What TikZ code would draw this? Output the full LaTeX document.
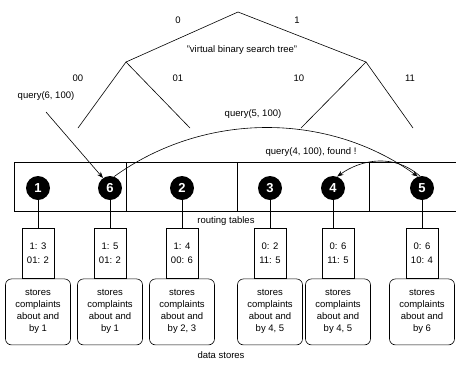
\documentclass[tikz,border=0pt]{standalone}
\usepackage{fontspec}
\setmainfont{Liberation Sans}
\usetikzlibrary{positioning,arrows.meta}

\begin{document}
\begin{tikzpicture}[x=1pt,y=-1pt,font=\fontsize{9.5}{12}\selectfont,
  peer/.style={circle,fill=black,text=white,minimum size=24pt,inner sep=0pt,font=\fontsize{13}{13}\selectfont\bfseries},
  rt/.style={draw=black,line width=0.6pt,align=center,minimum width=32pt,minimum height=50pt,inner sep=1pt,anchor=north,font=\fontsize{9.5}{14}\selectfont},
  ds/.style={draw=black,line width=0.6pt,rounded corners=6pt,align=center,minimum width=65pt,minimum height=66pt,inner sep=1pt},
  ln/.style={line width=0.6pt},
  ar/.style={-{Stealth[length=2.2mm]},line width=0.6pt},
  lb/.style={inner sep=1pt}]
  \useasboundingbox (0,0) rectangle (456,365);
  \coordinate (root) at (238,12);
  \coordinate (t0) at (126,62);
  \coordinate (t1) at (366,62);
  \coordinate (t00) at (78,128);
  \coordinate (t01) at (190,128);
  \coordinate (t10) at (301,128);
  \coordinate (t11) at (413,128);
  \draw[ln] (t0) -- (root) -- (t1);
  \draw[ln] (t00) -- (t0) -- (t01);
  \draw[ln] (t10) -- (t1) -- (t11);
  \node[lb] (b0) at (178,20) {0};
  \node[lb] (b1) at (297,20) {1};
  \node[lb] (vt) at (242,50) {"virtual binary search tree"};
  \node[lb] (b00) at (78,78) {00};
  \node[lb] (b01) at (178,78) {01};
  \node[lb] (b10) at (299,78) {10};
  \node[lb] (b11) at (410,78) {11};
  \draw[ln] (456,162) -- (14,162) -- (14,211) -- (456,211);
  \draw[ln] (126,162) -- (126,211);
  \draw[ln] (237,162) -- (237,211);
  \draw[ln] (369,162) -- (369,211);
  \node[peer] (n1) at (38,188) {1};
  \node[peer] (n6) at (110,188) {6};
  \node[peer] (n2) at (182,188) {2};
  \node[peer] (n3) at (270,188) {3};
  \node[peer] (n4) at (333,188) {4};
  \node[peer] (n5) at (422,188) {5};
  \node[rt] (rt1) at (38,228) {1: 3\\ 01: 2};
  \node[rt] (rt6) at (110,228) {1: 5\\ 01: 2};
  \node[rt] (rt2) at (182,228) {1: 4\\ 00: 6};
  \node[rt] (rt3) at (270,228) {0: 2\\ 11: 5};
  \node[rt] (rt4) at (338,228) {0: 6\\ 11: 5};
  \node[rt] (rt5) at (422,228) {0: 6\\ 10: 4};
  \node[ds,below=0pt of rt1] (ds1) {stores\\ complaints\\ about and\\ by 1};
  \node[ds,below=0pt of rt6] (ds6) {stores\\ complaints\\ about and\\ by 1};
  \node[ds,below=0pt of rt2] (ds2) {stores\\ complaints\\ about and\\ by 2, 3};
  \node[ds,below=0pt of rt3] (ds3) {stores\\ complaints\\ about and\\ by 4, 5};
  \node[ds,below=0pt of rt4] (ds4) {stores\\ complaints\\ about and\\ by 4, 5};
  \node[ds,below=0pt of rt5] (ds5) {stores\\ complaints\\ about and\\ by 6};
  \foreach \p in {1,6,2,3,4,5}
    \draw[ln] (n\p.south) -- (n\p.south |- rt\p.north);
  \node[lb] (rtl) at (226,221) {routing tables};
  \node[lb] (dsl) at (221,355) {data stores};
  \node[lb] (q6) at (46,96) {query(6, 100)};
  \node[lb] (q5) at (253,114) {query(5, 100)};
  \node[lb] (q4) at (311,152) {query(4, 100), found !};
  \coordinate (s6) at (46,112);
  \draw[ar] (s6) -- (n6.125);
  \draw[ar] (n6.70) .. controls +(90,-65) and +(-90,-65) .. (n5.110);
  \draw[ar] (n5.100) .. controls +(-25,-22) and +(25,-18) .. (n4.70);
\end{tikzpicture}
\end{document}
